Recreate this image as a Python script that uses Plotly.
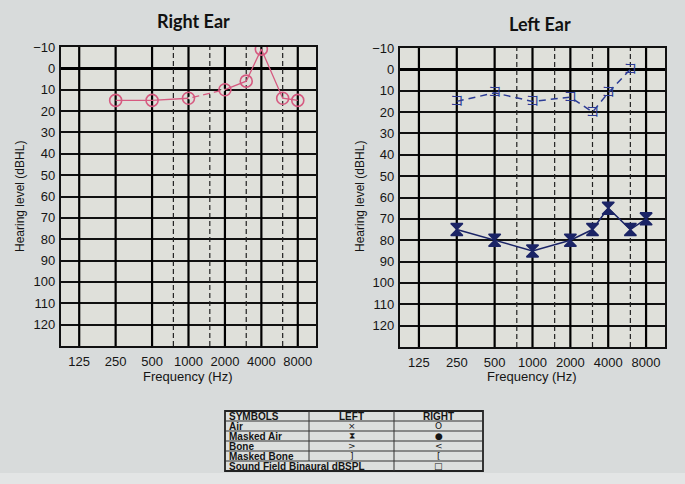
import math
import plotly.graph_objects as go

# ---------------- data ----------------
freq_ticks = [125, 250, 500, 1000, 2000, 4000, 8000]
freq_tick_labels = ["125", "250", "500", "1000", "2000", "4000", "8000"]
inter_octave = [750, 1500, 3000, 6000]
db_ticks = list(range(-10, 121, 10))
db_tick_labels = ["\u221210" if v < 0 else str(v) for v in db_ticks]
db_range = [130, -10]

right_air_freq = [250, 500, 1000, 2000, 3000, 4000, 6000, 8000]
right_air_db = [15, 15, 14, 10, 6, -9, 14, 15]

left_masked_bone_freq = [250, 500, 1000, 2000, 3000, 4000, 6000]
left_masked_bone_db = [15, 11, 15, 13, 20, 11, 0]

left_masked_air_freq = [250, 500, 1000, 2000, 3000, 4000, 6000, 8000]
left_masked_air_db = [75, 80, 85, 80, 75, 65, 75, 70]

legend_rows = [
    ("Air", "\u00d7", "O"),
    ("Masked Air", "\u29d7", "\u25cf"),
    ("Bone", ">", "<"),
    ("Masked Bone", "]", "["),
]
legend_last = ("Sound Field Binaural dBSPL", "\u25a1")

# ---------------- style ----------------
W, H = 685, 484
PINK = "#d65a80"
NAVY = "#1b2466"
BLUE = "#2c3c96"
PAPER = "#d8dbdb"
PLOT = "#dfe0da"
FONT = "Liberation Sans"
TXT = "#151515"

def px(x):
    return x / W

def py(y):
    return 1 - y / H

fig = go.Figure()

# vertical grid lines drawn as line traces (octaves solid, inter-octaves dashed)
def vlines(freqs):
    xs, ys = [], []
    for f in freqs:
        xs += [f, f, None]
        ys += [db_range[0], db_range[1], None]
    return xs, ys

for xa, ya in (("x", "y"), ("x2", "y2")):
    dx, dy = vlines(inter_octave)
    fig.add_trace(go.Scatter(x=dx, y=dy, mode="lines",
                             line=dict(color="#222", width=1.2, dash="5px,3px"),
                             xaxis=xa, yaxis=ya, showlegend=False, hoverinfo="skip"))
    vx, vy = vlines(freq_ticks)
    fig.add_trace(go.Scatter(x=vx, y=vy, mode="lines", line=dict(color="#000", width=2.2),
                             xaxis=xa, yaxis=ya, showlegend=False, hoverinfo="skip"))

# Right ear (x, y)
fig.add_trace(go.Scatter(x=right_air_freq, y=right_air_db, mode="lines",
                         line=dict(color=PINK, width=1.3), xaxis="x", yaxis="y",
                         showlegend=False, hoverinfo="skip"))
fig.add_trace(go.Scatter(x=right_air_freq[2:4], y=right_air_db[2:4], mode="lines",
                         line=dict(color=PLOT, width=2.5, dash="4px,7px"), xaxis="x", yaxis="y",
                         showlegend=False, hoverinfo="skip"))
fig.add_trace(go.Scatter(x=right_air_freq, y=right_air_db, mode="markers",
                         marker=dict(symbol="circle-open", size=12, color=PINK,
                                     line=dict(width=1.6, color=PINK)),
                         xaxis="x", yaxis="y", showlegend=False))

# Left ear (x2, y2)
fig.add_trace(go.Scatter(x=left_masked_bone_freq, y=left_masked_bone_db, mode="lines+text",
                         text=["\u30b3"] * len(left_masked_bone_freq), textposition="middle center",
                         textfont=dict(family="Noto Sans CJK JP", size=14, color=BLUE),
                         line=dict(color=BLUE, width=1.5, dash="7px,5px"),
                         xaxis="x2", yaxis="y2", showlegend=False))
fig.add_trace(go.Scatter(x=left_masked_air_freq, y=left_masked_air_db, mode="lines+markers",
                         line=dict(color=NAVY, width=1.5),
                         marker=dict(symbol="hourglass", size=12, color=NAVY,
                                     line=dict(width=1.5, color=NAVY)),
                         xaxis="x2", yaxis="y2", showlegend=False))

xrange = [math.log10(125 / math.sqrt(2)), math.log10(8000 * math.sqrt(2))]

def xaxis_cfg(domain, anchor):
    return dict(
        type="log", range=xrange, domain=domain, anchor=anchor, automargin=False,
        tickmode="array", tickvals=freq_ticks, ticktext=freq_tick_labels,
        showgrid=False,
        showline=True, linecolor="#111", linewidth=2.2, mirror=True,
        ticks="outside", ticklen=2, tickcolor="rgba(0,0,0,0)",
        tickfont=dict(family=FONT, size=13, color=TXT),
        zeroline=False, fixedrange=True,
    )

def yaxis_cfg(domain, anchor):
    return dict(
        range=db_range, domain=domain, anchor=anchor, automargin=False,
        tickmode="array", tickvals=db_ticks, ticktext=db_tick_labels,
        showgrid=True, gridcolor="#111", gridwidth=1.8,
        zeroline=True, zerolinecolor="#000", zerolinewidth=3,
        showline=True, linecolor="#111", linewidth=2.2, mirror=True,
        ticks="outside", ticklen=1, tickcolor="rgba(0,0,0,0)",
        tickfont=dict(family=FONT, size=13, color=TXT),
        fixedrange=True,
    )

fig.update_layout(
    width=W, height=H, margin=dict(l=0, r=0, t=0, b=0, autoexpand=False),
    paper_bgcolor=PAPER, plot_bgcolor=PLOT,
    xaxis=xaxis_cfg([px(61), px(316)], "y"),
    yaxis=yaxis_cfg([py(346), py(47)], "x"),
    xaxis2=xaxis_cfg([px(400), px(665)], "y2"),
    yaxis2=yaxis_cfg([py(347), py(48)], "x2"),
    showlegend=False,
)

shapes = []
shapes.append(dict(type="rect", xref="paper", yref="paper", x0=0, x1=1, y0=0, y1=py(473),
                   fillcolor="#e3e5e5", line=dict(width=0), layer="below"))

ann = []
ann.append(dict(text="<b>Right Ear</b>", x=px(193), y=py(21), xref="paper", yref="paper",
                showarrow=False, xanchor="center", yanchor="middle",
                font=dict(family="Lato", size=18, color="#111")))
ann.append(dict(text="<b>Left Ear</b>", x=px(540), y=py(24), xref="paper", yref="paper",
                showarrow=False, xanchor="center", yanchor="middle",
                font=dict(family="Lato", size=18, color="#111")))
for xc in (px(188), px(532)):
    ann.append(dict(text="Frequency (Hz)", x=xc, y=py(376), xref="paper", yref="paper",
                    showarrow=False, xanchor="center", yanchor="middle",
                    font=dict(family=FONT, size=13, color=TXT)))
for xc in (px(20), px(360)):
    ann.append(dict(text="Hearing level (dBHL)", x=xc, y=py(197), xref="paper", yref="paper",
                    showarrow=False, xanchor="center", yanchor="middle", textangle=-90,
                    font=dict(family=FONT, size=12, color=TXT)))

# ---------------- symbols table ----------------
tl, tr, tt, tb = 225, 483, 411, 471
c1, c2 = 309, 394
row_lines = [421, 431, 441, 451, 461]
shapes.append(dict(type="rect", xref="paper", yref="paper", x0=px(tl), x1=px(tr),
                   y0=py(tb), y1=py(tt), fillcolor="#dcdfde", line=dict(color="#222", width=1.8)))
for r in row_lines:
    shapes.append(dict(type="line", xref="paper", yref="paper", x0=px(tl), x1=px(tr),
                       y0=py(r), y1=py(r), line=dict(color="#333", width=1)))
shapes.append(dict(type="line", xref="paper", yref="paper", x0=px(c1), x1=px(c1),
                   y0=py(461), y1=py(tt), line=dict(color="#333", width=1)))
shapes.append(dict(type="line", xref="paper", yref="paper", x0=px(c2), x1=px(c2),
                   y0=py(tb), y1=py(tt), line=dict(color="#333", width=1)))

tf = dict(family=FONT, size=10, color=TXT)
sf = dict(family="DejaVu Sans", size=9, color=TXT)

def cell(text, x, y, anchor="center", font=tf):
    ann.append(dict(text=text, x=px(x), y=py(y), xref="paper", yref="paper",
                    showarrow=False, xanchor=anchor, yanchor="middle", font=font,
                    borderpad=0))

cell("<b>SYMBOLS</b>", tl + 3, 416, "left")
cell("<b>LEFT</b>", (c1 + c2) / 2, 416)
cell("<b>RIGHT</b>", (c2 + tr) / 2, 416)
for i, (name, lsym, rsym) in enumerate(legend_rows):
    yc = 426 + 10 * i
    cell("<b>" + name + "</b>", tl + 3, yc, "left")
    cell(lsym, (c1 + c2) / 2, yc, font=sf)
    cell(rsym, (c2 + tr) / 2, yc, font=sf)
cell("<b>" + legend_last[0] + "</b>", tl + 3, 466, "left")
cell(legend_last[1], (c2 + tr) / 2, 466, font=sf)

fig.update_layout(annotations=ann, shapes=shapes)
fig.write_html("out.html", config={"displayModeBar": False},
               post_script="document.body.style.margin='0';document.body.style.padding='0';")
